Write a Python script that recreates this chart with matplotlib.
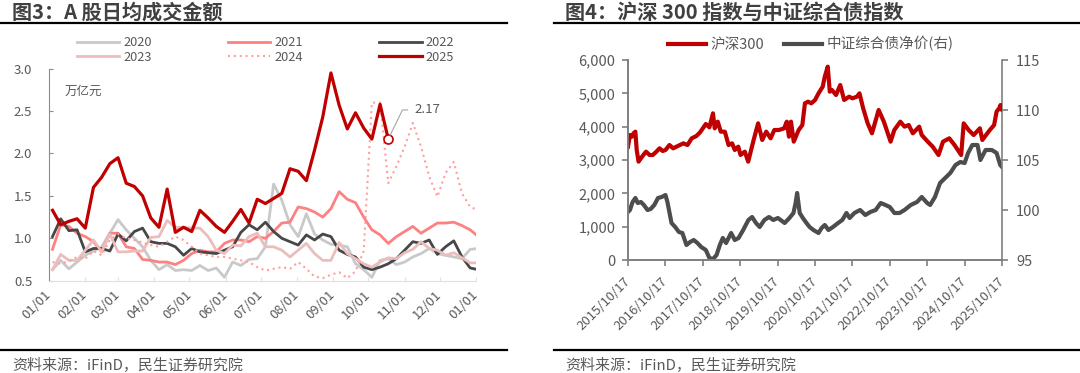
import numpy as np
import pandas as pd
import matplotlib
matplotlib.use('Agg')
import matplotlib.pyplot as plt
from matplotlib.lines import Line2D

plt.rcParams['font.family'] = ['Noto Sans CJK SC', 'DejaVu Sans']

# ---------------- 图3 data: weekly average turnover (万亿元) ----------------
v2020 = [0.63, 0.74, 0.64, 0.72, 0.80, 0.85, 0.90, 1.06, 1.22, 1.10, 1.00, 0.90, 0.74,
         0.63, 0.69, 0.62, 0.63, 0.62, 0.68, 0.62, 0.65, 0.54, 0.72, 0.68, 0.75, 0.76,
         0.90, 1.64, 1.45, 1.16, 1.02, 1.29, 1.05, 0.98, 0.93, 0.92, 0.90, 0.70, 0.63,
         0.54, 0.74, 0.76, 0.69, 0.72, 0.78, 0.82, 0.88, 0.82, 0.80, 0.78, 0.76, 0.87, 0.88]
v2021 = [0.87, 1.16, 1.14, 1.06, 1.02, 0.96, 0.84, 1.06, 1.06, 0.90, 0.88, 0.75, 0.74,
         0.72, 0.72, 0.69, 0.74, 0.82, 0.86, 0.84, 0.84, 0.94, 0.98, 0.98, 0.96, 1.02,
         1.00, 1.08, 1.18, 1.19, 1.37, 1.35, 1.31, 1.25, 1.35, 1.55, 1.46, 1.42, 1.25,
         1.10, 1.04, 0.94, 1.02, 1.08, 1.14, 1.06, 1.12, 1.18, 1.18, 1.19, 1.15, 1.10, 1.02]
v2022 = [1.02, 1.23, 1.09, 1.10, 0.84, 0.88, 0.88, 0.85, 1.05, 0.97, 1.08, 1.12, 0.96,
         0.94, 0.94, 0.90, 0.80, 0.88, 0.84, 0.83, 0.82, 0.86, 0.90, 1.07, 1.16, 1.10,
         1.19, 1.08, 1.00, 0.96, 0.92, 1.04, 0.98, 1.05, 1.02, 0.86, 0.81, 0.78, 0.66,
         0.63, 0.66, 0.70, 0.76, 0.86, 0.96, 0.94, 0.98, 0.81, 0.90, 0.97, 0.78, 0.65, 0.63]
v2023 = [0.63, 0.81, 0.74, 0.74, 0.86, 0.98, 0.84, 1.05, 0.84, 0.84, 0.85, 0.85, 1.01,
         1.02, 1.21, 1.13, 1.13, 1.12, 1.12, 1.02, 0.86, 0.82, 0.92, 0.91, 1.02, 1.06,
         0.90, 0.90, 0.86, 0.78, 0.86, 0.94, 0.82, 0.74, 0.74, 0.95, 0.82, 0.76, 0.70,
         0.66, 0.72, 0.77, 0.76, 0.83, 0.87, 0.96, 0.88, 0.86, 0.80, 0.83, 0.77, 0.71, 0.71]
v2024 = [0.72, 0.70, 0.73, 0.78, 0.76, 0.85, 0.80, 0.98, 1.05, 1.00, 0.98, 0.95, 0.92,
         0.90, 0.96, 1.02, 0.98, 0.90, 0.82, 0.80, 0.78, 0.78, 0.76, 0.74, 0.72, 0.66,
         0.62, 0.64, 0.66, 0.64, 0.72, 0.64, 0.55, 0.53, 0.57, 0.60, 0.53, 0.61, 0.85,
         2.60, 2.60, 1.65, 1.85, 2.08, 2.36, 2.08, 1.73, 1.49, 1.77, 1.90, 1.53, 1.37, 1.33]
v2025 = [1.33, 1.16, 1.20, 1.23, 1.12, 1.60, 1.72, 1.88, 1.95, 1.65, 1.61, 1.50, 1.24,
         1.13, 1.58, 1.07, 1.13, 1.08, 1.33, 1.24, 1.14, 1.07, 1.20, 1.34, 1.18, 1.46,
         1.41, 1.47, 1.53, 1.82, 1.79, 1.68, 2.04, 2.43, 2.95, 2.57, 2.29, 2.48, 2.30,
         2.17, 2.58, 2.17]
years = ['2020', '2021', '2022', '2023', '2024', '2025']
month_labels = ['01/01', '02/01', '03/01', '04/01', '05/01', '06/01', '07/01',
                '08/01', '09/01', '10/01', '11/01', '12/01', '01/01']
month_day = [0, 31, 59, 90, 120, 151, 181, 212, 243, 273, 304, 334, 365]

# ---------------- 图4 data ----------------
hs300_dates = ['2015-10-17', '2015-11-05', '2015-11-25', '2015-12-10', '2015-12-28',
               '2016-01-10', '2016-01-28', '2016-02-20', '2016-03-15', '2016-04-10',
               '2016-05-15', '2016-06-15', '2016-07-20', '2016-08-20', '2016-09-20',
               '2016-10-17', '2016-11-25', '2016-12-31', '2017-02-15', '2017-04-10',
               '2017-05-20', '2017-06-30', '2017-08-15', '2017-09-20', '2017-11-15',
               '2017-12-20', '2018-01-24', '2018-02-10', '2018-03-12', '2018-04-10',
               '2018-05-20', '2018-06-25', '2018-07-30', '2018-08-25', '2018-09-28',
               '2018-10-20', '2018-12-01', '2019-01-03', '2019-02-25', '2019-04-10',
               '2019-05-20', '2019-06-28', '2019-08-10', '2019-09-15', '2019-10-30',
               '2019-12-20', '2020-01-15', '2020-02-05', '2020-02-25', '2020-03-23',
               '2020-05-10', '2020-06-15', '2020-07-10', '2020-08-10', '2020-09-10',
               '2020-10-17', '2020-11-20', '2020-12-31', '2021-01-20', '2021-02-18',
               '2021-03-10', '2021-03-31', '2021-05-10', '2021-06-20', '2021-07-28',
               '2021-09-15', '2021-10-17', '2021-11-30', '2021-12-25', '2022-01-30',
               '2022-03-15', '2022-04-26', '2022-06-30', '2022-08-20', '2022-10-25',
               '2022-11-30', '2023-01-28', '2023-03-10', '2023-04-20', '2023-05-30',
               '2023-07-31', '2023-08-25', '2023-10-23', '2023-12-10', '2024-02-05',
               '2024-03-20', '2024-05-20', '2024-07-10', '2024-09-13', '2024-10-08',
               '2024-11-25', '2025-01-13', '2025-03-15', '2025-04-08', '2025-06-15',
               '2025-08-01', '2025-08-25', '2025-09-20', '2025-10-02', '2025-10-17']
hs300_vals = [3400, 3750, 3700, 3800, 3850, 3300, 2950, 3050, 3150, 3250,
              3150, 3150, 3250, 3350, 3270, 3300, 3450, 3350, 3420, 3500,
              3450, 3650, 3720, 3830, 4080, 3980, 4400, 3950, 4150, 3850,
              3850, 3450, 3500, 3300, 3400, 3150, 3250, 2950, 3600, 4100,
              3600, 3850, 3650, 3900, 3900, 3950, 4150, 3700, 4150, 3550,
              3900, 4050, 4700, 4750, 4700, 4800, 5000, 5200, 5500, 5800,
              5050, 5100, 4950, 5250, 4800, 4900, 4850, 4900, 5000, 4550,
              4100, 3800, 4500, 4150, 3550, 3900, 4150, 4000, 4050, 3800,
              4000, 3750, 3550, 3400, 3150, 3550, 3650, 3450, 3150, 4100,
              3900, 3750, 3950, 3600, 3880, 4050, 4450, 4550, 4650, 4520]
bond_dates = ['2015-10-17', '2015-11-05', '2015-12-01', '2015-12-28', '2016-01-20',
              '2016-02-20', '2016-03-20', '2016-04-25', '2016-05-25', '2016-06-30',
              '2016-08-05', '2016-09-10', '2016-10-17', '2016-11-05', '2016-12-15',
              '2017-01-20', '2017-02-25', '2017-03-31', '2017-05-10', '2017-06-15',
              '2017-07-20', '2017-08-25', '2017-10-01', '2017-11-15', '2017-12-20',
              '2018-01-25', '2018-02-28', '2018-04-01', '2018-04-30', '2018-06-01',
              '2018-07-20', '2018-08-25', '2018-10-01', '2018-11-15', '2019-01-05',
              '2019-02-10', '2019-03-20', '2019-04-25', '2019-06-10', '2019-07-25',
              '2019-09-05', '2019-10-20', '2019-12-25', '2020-02-10', '2020-03-20',
              '2020-04-10', '2020-04-25', '2020-05-20', '2020-06-20', '2020-07-25',
              '2020-08-25', '2020-10-01', '2020-11-20', '2020-12-20', '2021-01-20',
              '2021-02-25', '2021-04-10', '2021-05-30', '2021-07-10', '2021-08-20',
              '2021-09-20', '2021-11-05', '2021-12-31', '2022-02-20', '2022-04-10',
              '2022-06-01', '2022-07-20', '2022-09-05', '2022-10-17', '2022-12-01',
              '2023-01-20', '2023-03-10', '2023-05-10', '2023-07-10', '2023-08-25',
              '2023-10-17', '2023-11-15', '2024-01-01', '2024-02-20', '2024-04-10',
              '2024-05-30', '2024-07-20', '2024-09-05', '2024-10-17', '2024-11-20',
              '2024-12-31', '2025-02-20', '2025-03-20', '2025-05-10', '2025-07-10',
              '2025-08-25', '2025-09-30', '2025-10-17']
bond_vals = [99.8, 100.0, 100.8, 101.2, 100.7, 100.8, 100.5, 100.0, 100.1, 100.5,
             101.2, 101.3, 101.5, 100.8, 98.7, 98.3, 97.8, 97.7, 96.5, 96.8,
             97.0, 96.7, 96.3, 96.0, 95.2, 95.1, 95.5, 96.5, 97.2, 96.7,
             97.7, 97.0, 97.2, 98.0, 99.0, 99.3, 98.7, 98.3, 99.0, 99.3,
             99.0, 99.2, 98.7, 99.2, 99.7, 100.7, 101.7, 99.7, 99.2, 98.7,
             98.3, 98.0, 97.7, 98.2, 98.5, 98.0, 98.3, 98.7, 99.0, 99.7,
             99.2, 99.7, 100.0, 99.5, 99.8, 100.0, 100.7, 100.5, 100.3, 99.7,
             99.7, 100.0, 100.5, 100.8, 101.3, 100.7, 100.5, 101.3, 102.7, 103.2,
             103.7, 104.5, 104.8, 104.7, 105.7, 106.5, 106.5, 105.0, 106.0, 106.0,
             105.7, 104.5, 104.3]

# ---------------- styles ----------------
txt = '#595959'
dark = '#404040'
red = '#C00000'
W, H = 1080, 373

fig = plt.figure(figsize=(W / 100, H / 100), dpi=100)


def hline(x0, x1, y):
    fig.add_artist(Line2D([x0 / W, x1 / W], [1 - y / H] * 2, color='black', lw=1.6,
                          transform=fig.transFigure))


# titles, rules and sources
fig.text(12 / W, 1 - 12 / H, '图3：A 股日均成交金额', fontsize=14.5, fontweight='bold',
         color=dark, va='center', ha='left')
fig.text(565 / W, 1 - 12 / H, '图4：沪深 300 指数与中证综合债指数', fontsize=14.5,
         fontweight='bold', color=dark, va='center', ha='left')
hline(0, 507, 23)
hline(554, 1080, 23)
hline(0, 507, 350)
hline(554, 1080, 350)
for x0 in (12, 565):
    fig.text(x0 / W, 1 - 366 / H, '资料来源：iFinD，民生证券研究院', fontsize=10.8,
             color=txt, va='center', ha='left')

# ---------------- 图3 ----------------
ax = fig.add_axes([49 / W, 1 - 280.7 / H, 427 / W, 212 / H])
week_day = np.arange(53) * 7 + 3
styles = {
    '2020': dict(color='#C9C9C9', lw=2.0),
    '2021': dict(color='#FF8080', lw=2.0),
    '2022': dict(color='#474747', lw=2.0),
    '2023': dict(color='#EBBDBD', lw=2.0),
    '2024': dict(color='#FF9F9F', lw=1.5, ls=(0, (1, 1.8))),
    '2025': dict(color=red, lw=2.3),
}
series = [v2020, v2021, v2022, v2023, v2024, v2025]
handles = {}
for y, vals in zip(years, series):
    handles[y], = ax.plot(week_day[:len(vals)], vals, label=y, **styles[y])

ax.plot(week_day[len(v2025) - 1], v2025[-1], 'o', ms=6.5, mfc='white', mec=red, mew=1.2)
ax.annotate(f'{v2025[-1]:.2f}', xy=(week_day[len(v2025) - 1], v2025[-1]),
            xytext=(19, 21), textcoords='offset points', fontsize=9.5, color=txt,
            va='center', ha='left',
            arrowprops=dict(arrowstyle='-', color='#A6A6A6', lw=0.8,
                            connectionstyle='angle,angleA=0,angleB=64,rad=0',
                            shrinkA=3, shrinkB=3, relpos=(0, 0.5)))

ax.set_xlim(0, 365)
ax.set_ylim(0.5, 3.0)
ax.set_yticks(np.arange(0.5, 3.01, 0.5))
ax.set_yticklabels([f'{t:.1f}' for t in np.arange(0.5, 3.01, 0.5)])
ax.set_xticks(month_day)
ax.set_xticklabels(month_labels, rotation=45, ha='right', va='center',
                   rotation_mode='anchor')
for s in ['top', 'right']:
    ax.spines[s].set_visible(False)
ax.spines['left'].set_color('#8C8C8C')
ax.spines['bottom'].set_color('#E0E0E0')
ax.tick_params(axis='y', direction='in', length=3, color='#8C8C8C', labelsize=9.5,
               labelcolor=txt, pad=12)
ax.tick_params(axis='x', direction='in', length=3, color='#E0E0E0', labelsize=9.5,
               labelcolor=txt, pad=9)
fig.text(65 / W, 1 - 91.7 / H, '万亿元', fontsize=9, color=txt, va='center', ha='left')

# legend filled row by row: 2020 2021 2022 / 2023 2024 2025
order = ['2020', '2023', '2021', '2024', '2022', '2025']
leg = ax.legend([handles[k] for k in order], order, ncol=3, loc='upper left',
                bbox_to_anchor=(77 / W, 1 - 36 / H), bbox_transform=fig.transFigure,
                frameon=False, fontsize=9.2, handlelength=3.3, handletextpad=0.3,
                columnspacing=6.0, labelspacing=0.15, borderpad=0, borderaxespad=0)
for t in leg.get_texts():
    t.set_color(txt)

# ---------------- 图4 ----------------
bx = fig.add_axes([628 / W, 1 - 260 / H, 374 / W, 200 / H])
bx2 = bx.twinx()
l1, = bx.plot(pd.to_datetime(hs300_dates), hs300_vals, color=red, lw=3.0,
              label='沪深300')
l2, = bx2.plot(pd.to_datetime(bond_dates), bond_vals, color='#4D4D4D', lw=3.0,
               label='中证综合债净价(右)')
bx.set_zorder(bx2.get_zorder() + 1)
bx.patch.set_visible(False)

bx.set_xlim(pd.Timestamp('2015-10-17'), pd.Timestamp('2025-10-17'))
bx.set_ylim(0, 6000)
bx.set_yticks(range(0, 6001, 1000))
bx.set_yticklabels([f'{v:,}' for v in range(0, 6001, 1000)])
bx2.set_ylim(95, 115)
bx2.set_yticks(range(95, 116, 5))
xt = pd.to_datetime([f'{y}-10-17' for y in range(2015, 2026)])
bx.set_xticks(xt)
bx.set_xticklabels([d.strftime('%Y/%m/%d') for d in xt], rotation=45, ha='right',
                   va='center', rotation_mode='anchor')
for a in (bx, bx2):
    a.spines['top'].set_visible(False)
    for s in ['left', 'right', 'bottom']:
        a.spines[s].set_color('#7F7F7F')
        a.spines[s].set_linewidth(1.2)
bx.spines['right'].set_visible(False)
bx.tick_params(axis='y', direction='out', length=4, width=1.2, color='#7F7F7F',
               labelsize=10.5, labelcolor=txt, pad=5)
bx.tick_params(axis='x', direction='out', length=4, width=1.2, color='#7F7F7F',
               labelsize=9.5, labelcolor=txt, pad=10)
bx2.tick_params(axis='y', direction='out', length=4, width=1.2, color='#7F7F7F',
                labelsize=10.5, labelcolor=txt, pad=6)

leg2 = bx.legend(handles=[l1, l2], ncol=2, loc='center left',
                 bbox_to_anchor=(668 / W, 1 - 44 / H), bbox_transform=fig.transFigure,
                 frameon=False, fontsize=10.5, handlelength=2.6, handletextpad=0.3,
                 columnspacing=1.4, borderpad=0, borderaxespad=0)
for t in leg2.get_texts():
    t.set_color(txt)

fig.savefig('out.png', dpi=100)
